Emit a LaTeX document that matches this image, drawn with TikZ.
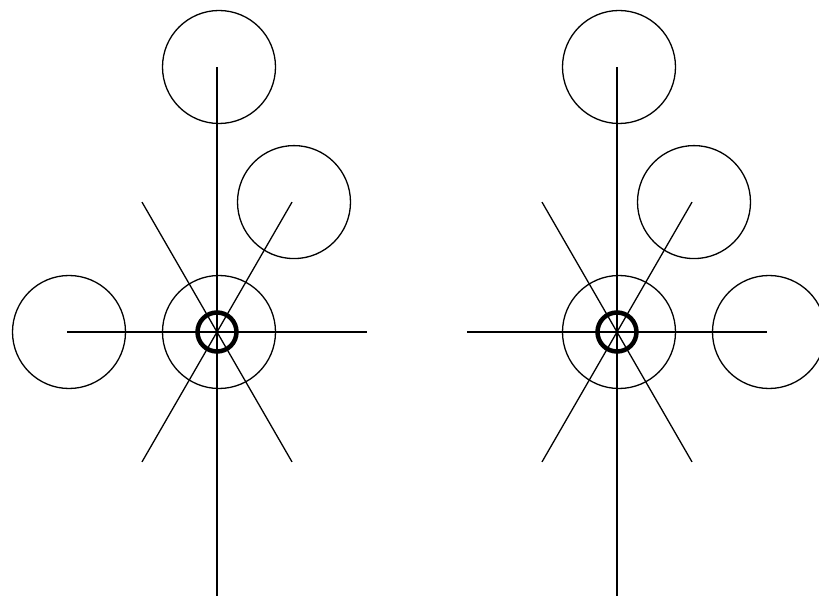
\documentclass[tikz,border=0pt]{standalone}
\usepackage{tikz}
\usetikzlibrary{calc}

\begin{document}
\begin{tikzpicture}[x=1pt,y=1pt,line width=1.3pt,hub/.style={line width=4.5pt}]
\useasboundingbox (0,0) rectangle (819,595);
\clip (0,0) rectangle (819,595);
\coordinate (l) at (217,263);
\coordinate (r) at (617,263);
\foreach \c in {l,r} {
\draw (\c) -- ++(0,265);
\draw (\c) -- ++(0,-265);
\foreach \a in {0,60,120,180,240,300} \draw (\c) -- ++(\a:150);
\draw ($(\c)+(2,0)$) circle (56.5);
\draw[hub] (\c) circle (19.5);
\draw ($(\c)+(2,265)$) circle (56.5);
\draw ($(\c)+(60:150)+(2,0)$) circle (56.5);
}
\draw ($(l)+(180:150)+(2,0)$) circle (56.5);
\draw ($(r)+(0:150)+(2,0)$) circle (56.5);
\end{tikzpicture}
\end{document}
